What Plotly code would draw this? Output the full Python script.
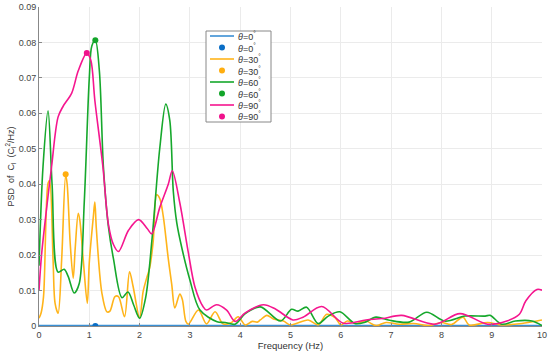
import plotly.graph_objects as go

# theta = 0 deg
f0 = [0, 2, 4, 6, 8, 10]
p0 = [0.0001, 0.0001, 0.0001, 0.0001, 0.0001, 0.0001]

# theta = 30 deg
f30 = [0.0, 0.04, 0.09, 0.18, 0.21, 0.28, 0.32, 0.38, 0.45, 0.53, 0.56, 0.62, 0.68, 0.72, 0.78,
       0.81, 0.88, 0.96, 1.0, 1.08, 1.11, 1.14, 1.25, 1.35, 1.41, 1.51, 1.58, 1.70, 1.80, 1.87,
       2.0, 2.07, 2.14, 2.2, 2.27, 2.34, 2.4, 2.47, 2.57, 2.64, 2.7, 2.8, 2.85, 2.92, 2.97, 3.17,
       3.33, 3.5, 3.66, 3.82, 3.96, 4.1, 4.24, 4.34, 4.4, 4.53, 4.66, 4.86, 5.0, 5.35, 5.55,
       5.72, 5.89, 6.0, 6.13, 6.3, 6.5, 6.7, 6.9, 7.16, 7.45, 7.75, 8.0, 8.2, 8.43, 8.55, 8.92,
       9.2, 9.6, 9.9, 10.0]
p30 = [0.0022, 0.0036, 0.0083, 0.0403, 0.041, 0.0186, 0.0064, 0.0036, 0.0186, 0.0426, 0.040,
       0.0234, 0.0135, 0.022, 0.0318, 0.030, 0.0186, 0.0064, 0.018, 0.0308, 0.035, 0.0275,
       0.0093, 0.004, 0.0042, 0.0083, 0.0083, 0.0026, 0.0153, 0.0112, 0.0023, 0.0097, 0.0135,
       0.0164, 0.0238, 0.037, 0.036, 0.031, 0.019, 0.0116, 0.0051, 0.009, 0.0075, 0.0013, 0.0005,
       0.0045, 0.0006, 0.004, 0.0006, 0.0009, 0.0026, 0.0003, 0.0013, 0.0011, 0.0017, 0.003,
       0.002, 0.0014, 0.0003, 0.0017, 0.0003, 0.0033, 0.0023, 0.0003, 0.0014, 0.0007, 0.0014,
       0.0001, 0.001, 0.0005, 0.0007, 0.0001, 0.001, 0.0004, 0.0025, 0.0003, 0.001, 0.0003,
       0.0007, 0.0014, 0.0017]

# theta = 60 deg
f60 = [0.0, 0.08, 0.18, 0.26, 0.38, 0.5, 0.58, 0.7, 0.8, 0.9, 1.0, 1.05, 1.12, 1.2, 1.28,
       1.38, 1.48, 1.65, 1.77, 1.88, 2.0, 2.12, 2.25, 2.4, 2.52, 2.6, 2.67, 2.74, 2.84, 3.0,
       3.2, 3.54, 3.7, 3.9, 4.1, 4.4, 4.8, 5.02, 5.15, 5.32, 5.55, 5.75, 5.98, 6.28, 6.47, 6.7,
       6.97, 7.36, 7.71, 8.07, 8.47, 8.87, 8.97, 9.2, 9.47, 9.8, 10.0]
p60 = [0.017, 0.045, 0.0607, 0.04, 0.0152, 0.016, 0.014, 0.0093, 0.012, 0.035, 0.07, 0.079,
       0.0806, 0.072, 0.045, 0.028, 0.019, 0.008, 0.0096, 0.006, 0.0022, 0.008, 0.025, 0.050,
       0.0626, 0.058, 0.038, 0.029, 0.022, 0.013, 0.0045, 0.0012, 0.001, 0.0005, 0.0035, 0.0054,
       0.0014, 0.0047, 0.0042, 0.0053, 0.0007, 0.0028, 0.004, 0.0007, 0.001, 0.0025, 0.0016,
       0.0011, 0.0039, 0.0014, 0.0028, 0.0028, 0.003, 0.0005, 0.0014, 0.0014, 0.0001]

# theta = 90 deg
f90 = [0.0, 0.05, 0.15, 0.25, 0.38, 0.48, 0.65, 0.78, 0.95, 1.03, 1.11, 1.27, 1.38, 1.48,
       1.58, 1.78, 1.98, 2.15, 2.24, 2.4, 2.57, 2.65, 2.8, 2.97, 3.1, 3.26, 3.33, 3.53, 3.73,
       3.9, 4.1, 4.46, 4.7, 5.05, 5.25, 5.62, 6.05, 6.5, 6.83, 7.21, 7.87, 8.37, 8.92, 9.3,
       9.55, 9.68, 9.9, 10.0]
p90 = [0.01, 0.02, 0.033, 0.045, 0.059, 0.062, 0.0657, 0.072, 0.077, 0.075, 0.0637, 0.045,
       0.0287, 0.023, 0.021, 0.027, 0.030, 0.0275, 0.026, 0.0334, 0.040, 0.0438, 0.0347,
       0.0206, 0.011, 0.0055, 0.0045, 0.006, 0.0045, 0.0013, 0.0037, 0.006, 0.0048, 0.0017,
       0.0025, 0.0055, 0.0008, 0.0017, 0.0021, 0.003, 0.0005, 0.0035, 0.0005, 0.0014, 0.0033,
       0.0071, 0.0103, 0.0101]

# peak markers
mark_f = [1.12, 0.53, 1.12, 0.95]
mark_p = [0.0, 0.0428, 0.0806, 0.0770]

labels = ["<i>θ</i>=0<sup>°</sup>", "<i>θ</i>=30<sup>°</sup>",
          "<i>θ</i>=60<sup>°</sup>", "<i>θ</i>=90<sup>°</sup>"]
line_cols = ["#3a8fd4", "#ffb41a", "#16a82c", "#f5168f"]
mark_cols = ["#0a6ec6", "#ffae10", "#12a52a", "#f0128c"]

fig = go.Figure()
series = [(f0, p0), (f30, p30), (f60, p60), (f90, p90)]
for i, (fx, py) in enumerate(series):
    fig.add_trace(go.Scatter(x=fx, y=py, mode="lines", name=labels[i], showlegend=False,
                             line=dict(color=line_cols[i], width=1.6, shape="spline", smoothing=0.9)))
    fig.add_trace(go.Scatter(x=[mark_f[i]], y=[mark_p[i]], mode="markers", name=labels[i],
                             showlegend=False, marker=dict(color=mark_cols[i], size=6)))

# compact MATLAB-like legend box (plotly's own legend rows are too tall)
W, H = 503, 319
def px_x(p):
    return (p - 39) / W
def px_y(p):
    return (326 - p) / H

shapes = [dict(type="rect", xref="paper", yref="paper",
               x0=px_x(206), x1=px_x(271), y0=px_y(122), y1=px_y(31),
               line=dict(color="#888", width=1), fillcolor="white", layer="above")]
annotations = []
row_y = [36, 47.5, 59, 70.5, 82, 93.5, 105, 116.5]
for i in range(4):
    yl, ym = row_y[2 * i], row_y[2 * i + 1]
    shapes.append(dict(type="line", xref="paper", yref="paper",
                       x0=px_x(210), x1=px_x(234), y0=px_y(yl), y1=px_y(yl),
                       line=dict(color=line_cols[i], width=1.6), layer="above"))
    shapes.append(dict(type="circle", xref="paper", yref="paper",
                       xsizemode="pixel", ysizemode="pixel",
                       xanchor=px_x(222), yanchor=px_y(ym),
                       x0=-3, x1=3, y0=-3, y1=3,
                       line=dict(color=mark_cols[i], width=0), fillcolor=mark_cols[i],
                       layer="above"))
    for yy in (yl, ym):
        annotations.append(dict(xref="paper", yref="paper", x=px_x(236), y=px_y(yy),
                                xanchor="left", yanchor="middle", text=labels[i],
                                showarrow=False, font=dict(size=9, color="#333")))

fig.update_layout(
    width=550, height=355,
    margin=dict(l=39, r=8, t=7, b=29),
    paper_bgcolor="white", plot_bgcolor="white",
    font=dict(family="Liberation Sans, Arial", size=9, color="#444"),
    showlegend=False,
    shapes=shapes,
    annotations=annotations,
)
fig.update_xaxes(range=[0, 10], dtick=1, showgrid=True, gridcolor="#ebebeb",
                 showline=True, linecolor="#888", linewidth=1, ticks="inside", ticklen=3,
                 tickcolor="#888", zeroline=False, automargin=False,
                 tickfont=dict(size=9, color="#444"),
                 title=dict(text="Frequency (Hz)", font=dict(size=9.5, color="#333"), standoff=2))
fig.update_yaxes(range=[0, 0.09], dtick=0.01, showgrid=True, gridcolor="#ebebeb",
                 showline=True, linecolor="#888", linewidth=1, ticks="inside", ticklen=3,
                 tickcolor="#888", zeroline=False, tickformat="~g", automargin=False,
                 tickfont=dict(size=9, color="#444"),
                 title=dict(text="PSD  of  C<sub>l</sub>  (C<sub>l</sub><sup>2</sup>/Hz)",
                            font=dict(size=9, color="#333"), standoff=2))

# drop the default 8px body margin so the figure sits at the page origin
fig.write_html("out.html", config={"displayModeBar": False},
               post_script="document.body.style.margin='0';")
